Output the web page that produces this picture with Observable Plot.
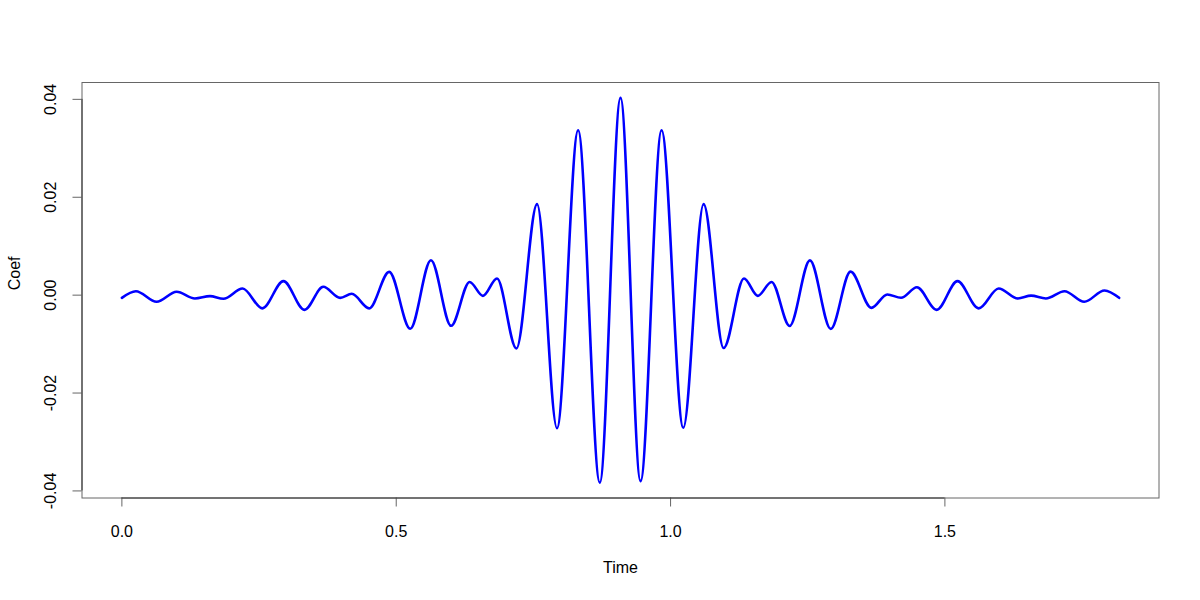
<!DOCTYPE html>
<html><head><meta charset="utf-8">
<script src="https://cdn.jsdelivr.net/npm/d3@7"></script>
<script src="https://cdn.jsdelivr.net/npm/@observablehq/plot@0.6"></script>
<style>body{margin:0;background:#fff}</style>
</head><body><div id="chart"></div>
<script>
const time = [0, 0.0255, 0.0633, 0.0998, 0.133, 0.1606, 0.185, 0.220, 0.256, 0.2944,
  0.3327, 0.367, 0.3978, 0.419, 0.4507, 0.4872, 0.5255, 0.5633, 0.600, 0.6338,
  0.658, 0.6837, 0.719, 0.7567, 0.793, 0.8315, 0.871, 0.9088, 0.9453, 0.9836,
  1.0232, 1.0602, 1.0967, 1.1338, 1.159, 1.184, 1.217, 1.254, 1.292, 1.328,
  1.366, 1.395, 1.420, 1.449, 1.485, 1.523, 1.5615, 1.598, 1.633, 1.657,
  1.684, 1.718, 1.754, 1.791, 1.8175];
const coef = [-0.00055, 0.0008, -0.00136, 0.00068, -0.00068, -0.0002, -0.00075, 0.00136, -0.0027, 0.00286,
  -0.0030, 0.0017, -0.00055, 0.00027, -0.0027, 0.00476, -0.00687, 0.00714, -0.00626, 0.0027,
  -0.00014, 0.0034, -0.0109, 0.0186, -0.0272, 0.0337, -0.0383, 0.0403, -0.0380, 0.0337,
  -0.0271, 0.0186, -0.0108, 0.0034, -0.00014, 0.0027, -0.0063, 0.0071, -0.0069, 0.0048,
  -0.0026, 0.00014, -0.00054, 0.0016, -0.0030, 0.00286, -0.0027, 0.00136, -0.00068, -0.0001,
  -0.00068, 0.0008, -0.00136, 0.00096, -0.00055];
const xTicks = [0, 0.5, 1.0, 1.5];
const yTicks = [-0.04, -0.02, 0.00, 0.02, 0.04];
const xLabel = "Time";
const yLabel = "Coef";

const data = time.map((t, i) => ({time: t, coef: coef[i]}));
// R-style 4% axis expansion
function pad(ext) { const r = ext[1] - ext[0]; return [ext[0] - 0.04 * r, ext[1] + 0.04 * r]; }
const xDom = pad(d3.extent(time));
const yDom = pad(d3.extent(coef));

const chart = Plot.plot({
  width: 1200, height: 600,
  marginLeft: 81.5, marginRight: 41.5, marginTop: 82, marginBottom: 102.5,
  style: {fontFamily: "'Liberation Sans', Arial, sans-serif", fontSize: "16px", background: "#fff", color: "#000"},
  x: {domain: xDom},
  y: {domain: yDom},
  marks: [
    Plot.frame({stroke: "#666"}),
    Plot.axisX({ticks: xTicks, tickSize: 9, tickPadding: 19, tickFormat: d => d.toFixed(1), stroke: "#666", label: null, fontSize: 16}),
    Plot.axisY({ticks: yTicks, tickSize: 9, tickPadding: 17.5, tickRotate: -90, tickFormat: d => d.toFixed(2), stroke: "#666", label: null, fontSize: 16}),
    Plot.ruleY([yDom[0]], {x1: d3.min(xTicks), x2: d3.max(xTicks), stroke: "#333"}),
    Plot.ruleX([xDom[0]], {y1: d3.min(yTicks), y2: d3.max(yTicks), stroke: "#333"}),
    Plot.line(data, {x: "time", y: "coef", stroke: "#0000ff", strokeWidth: 2.6, curve: "monotone-x"}),
    Plot.text([xLabel], {text: d => d, frameAnchor: "bottom", lineAnchor: "bottom", dy: 75, fontSize: 16}),
    Plot.text([yLabel], {text: d => d, frameAnchor: "left", lineAnchor: "bottom", rotate: -90, dx: -62, fontSize: 16})
  ]
});
document.getElementById("chart").appendChild(chart);
</script>
</body></html>
